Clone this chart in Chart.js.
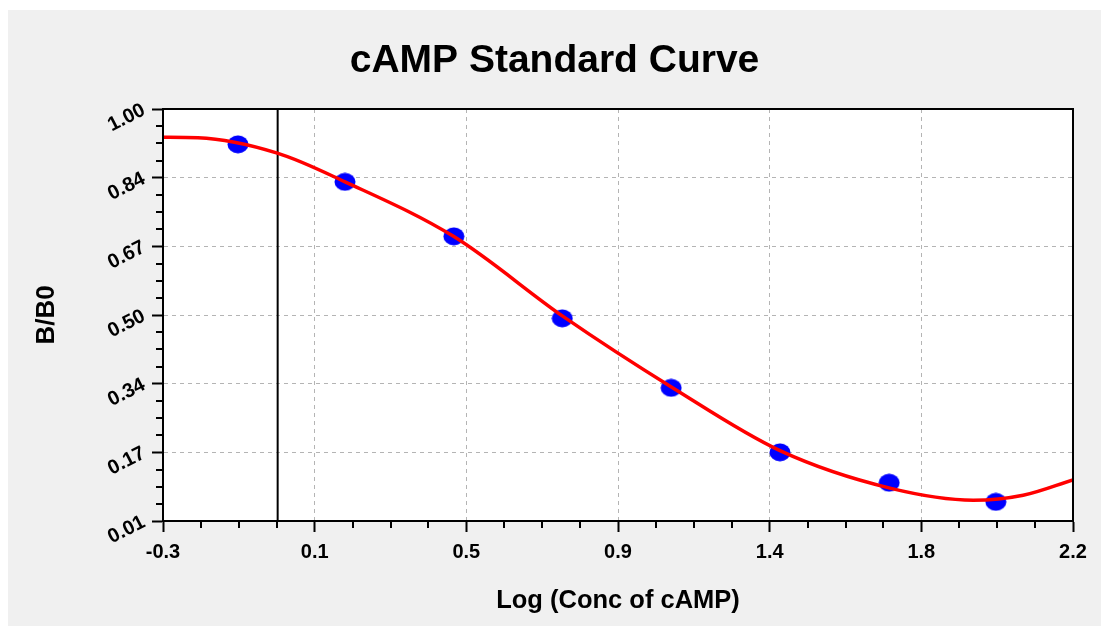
<!DOCTYPE html>
<html>
<head>
<meta charset="utf-8">
<title>cAMP Standard Curve</title>
<script src="https://cdn.jsdelivr.net/npm/chart.js@4.4.1/dist/chart.umd.min.js"></script>
<style>
  html, body { margin: 0; padding: 0; background: #ffffff; }
  #panel { position: absolute; left: 8px; top: 10px; width: 1093px; height: 616px; background: #f0f0f0; }
</style>
</head>
<body>
<div id="panel"><canvas id="curve-chart"></canvas></div>
<script>
// 标准品的测量点
const pointX = [-0.094, 0.200, 0.499, 0.797, 1.096, 1.395, 1.695, 1.988];
const pointY = [0.915, 0.825, 0.694, 0.497, 0.330, 0.175, 0.102, 0.056];

// 拟合曲线（从图上读出的采样点）
const curveX = [-0.300, -0.204, 0.014, 0.200, 0.498, 0.800, 1.102, 1.395, 1.697, 1.926, 2.063, 2.200];
const curveY = [0.932, 0.931, 0.894, 0.825, 0.694, 0.501, 0.329, 0.179, 0.089, 0.060, 0.072, 0.109];

// 竖直参考线
const refLineX = [0.015, 0.015];
const refLineY = [0.01, 1.00];

// 坐标轴刻度
const xMin = -0.3, xMax = 2.2;
const xTickLabels = ['-0.3', '0.1', '0.5', '0.9', '1.4', '1.8', '2.2'];
const yMin = 0.01, yMax = 1.00;
const yTickLabels = ['0.01', '0.17', '0.34', '0.50', '0.67', '0.84', '1.00'];

const xTickValues = xTickLabels.map((_, i) => xMin + i * (xMax - xMin) / (xTickLabels.length - 1));
const yTickValues = yTickLabels.map((_, i) => yMin + i * (yMax - yMin) / (yTickLabels.length - 1));

const toXY = (xs, ys) => xs.map((x, i) => ({ x: x, y: ys[i] }));

// 椭圆形的蓝色点
function makeDot() {
    const c = document.createElement('canvas');
    c.width = 22;
    c.height = 19;
    const g = c.getContext('2d');
    g.fillStyle = '#0000ff';
    g.beginPath();
    g.ellipse(11, 9.5, 10.5, 9, 0, 0, Math.PI * 2);
    g.fill();
    return c;
}

// 绘图区白底、边框和次刻度
const plotFrame = {
    id: 'plotFrame',
    beforeDraw(chart) {
        const { ctx, chartArea: a } = chart;
        ctx.save();
        ctx.fillStyle = '#ffffff';
        ctx.fillRect(a.left, a.top, a.right - a.left, a.bottom - a.top);
        ctx.restore();
    },
    afterDraw(chart) {
        const { ctx, chartArea: a, scales } = chart;
        ctx.save();
        ctx.strokeStyle = '#000000';
        ctx.lineWidth = 2;
        ctx.beginPath();
        for (let i = 0; i < xTickValues.length - 1; i++) {
            for (let k = 1; k < 4; k++) {
                const v = xTickValues[i] + k * (xTickValues[i + 1] - xTickValues[i]) / 4;
                const px = Math.round(scales.x.getPixelForValue(v));
                ctx.moveTo(px, a.bottom);
                ctx.lineTo(px, a.bottom + 7);
            }
        }
        for (let i = 0; i < yTickValues.length - 1; i++) {
            for (let k = 1; k < 4; k++) {
                const v = yTickValues[i] + k * (yTickValues[i + 1] - yTickValues[i]) / 4;
                const py = Math.round(scales.y.getPixelForValue(v));
                ctx.moveTo(a.left - 7, py);
                ctx.lineTo(a.left, py);
            }
        }
        ctx.stroke();
        ctx.strokeRect(a.left, a.top, a.right - a.left, a.bottom - a.top);
        ctx.restore();
    }
};

Chart.defaults.font.family = "'Liberation Sans', Arial, sans-serif";
Chart.defaults.color = '#000000';

const gridColor = (c, n) => (c.index === 0 || c.index === n - 1) ? 'rgba(0,0,0,0)' : '#b4b4b4';

const ctx = document.getElementById('curve-chart').getContext('2d');
window.curveChart = new Chart(ctx, {
    type: 'scatter',
    data: {
        datasets: [{
            label: 'fit',
            data: toXY(curveX, curveY),
            showLine: true,
            borderColor: '#ff0000',
            borderWidth: 3.5,
            pointRadius: 0,
            cubicInterpolationMode: 'monotone',
            fill: false
        }, {
            label: 'standards',
            data: toXY(pointX, pointY),
            pointStyle: makeDot(),
            pointRadius: 10,
            backgroundColor: '#0000ff',
            borderWidth: 0
        }, {
            label: 'ref',
            data: toXY(refLineX, refLineY),
            showLine: true,
            borderColor: '#000000',
            borderWidth: 2,
            pointRadius: 0
        }]
    },
    options: {
        responsive: true,
        maintainAspectRatio: false,
        animation: false,
        events: [],
        layout: { padding: 0 },
        plugins: {
            legend: { display: false },
            tooltip: { enabled: false },
            title: {
                display: true,
                text: 'cAMP Standard Curve',
                color: '#000000',
                font: { size: 39, weight: 'bold' },
                padding: { top: 28, bottom: 24.2 }
            }
        },
        scales: {
            x: {
                type: 'linear',
                position: 'bottom',
                min: xMin,
                max: xMax,
                afterBuildTicks: s => { s.ticks = xTickValues.map(v => ({ value: v })); },
                afterFit: s => { s.height = 105; },
                ticks: {
                    callback: (v, i) => xTickLabels[i],
                    font: { size: 20, weight: 'bold' },
                    padding: 8,
                    maxRotation: 0,
                    minRotation: 0,
                    autoSkip: false
                },
                grid: {
                    color: c => gridColor(c, xTickValues.length),
                    lineWidth: 1,
                    tickLength: 11,
                    tickColor: '#000000',
                    tickWidth: 2
                },
                border: { display: true, color: '#000000', width: 2, dash: [4, 4] },
                title: {
                    display: true,
                    text: 'Log (Conc of cAMP)',
                    font: { size: 25.5, weight: 'bold' },
                    padding: { top: 0, bottom: 10 }
                }
            },
            y: {
                type: 'linear',
                position: 'left',
                min: yMin,
                max: yMax,
                afterBuildTicks: s => { s.ticks = yTickValues.map(v => ({ value: v })); },
                afterFit: s => { s.width = 155; },
                ticks: {
                    callback: (v, i) => yTickLabels[i],
                    font: { size: 20, weight: 'bold' },
                    padding: 8,
                    minRotation: 27,
                    maxRotation: 27,
                    autoSkip: false
                },
                grid: {
                    color: c => gridColor(c, yTickValues.length),
                    lineWidth: 1,
                    tickLength: 11,
                    tickColor: '#000000',
                    tickWidth: 2
                },
                border: { display: true, color: '#000000', width: 2, dash: [4, 4] },
                title: {
                    display: true,
                    text: 'B/B0',
                    font: { size: 26, weight: 'bold' },
                    padding: { top: 23, bottom: 0 }
                }
            },
            yRight: {
                type: 'linear',
                position: 'right',
                display: true,
                grid: { display: false, drawTicks: false },
                ticks: { display: false },
                border: { display: false },
                afterFit: s => { s.width = 28; }
            }
        }
    },
    plugins: [plotFrame]
});
</script>
</body>
</html>
